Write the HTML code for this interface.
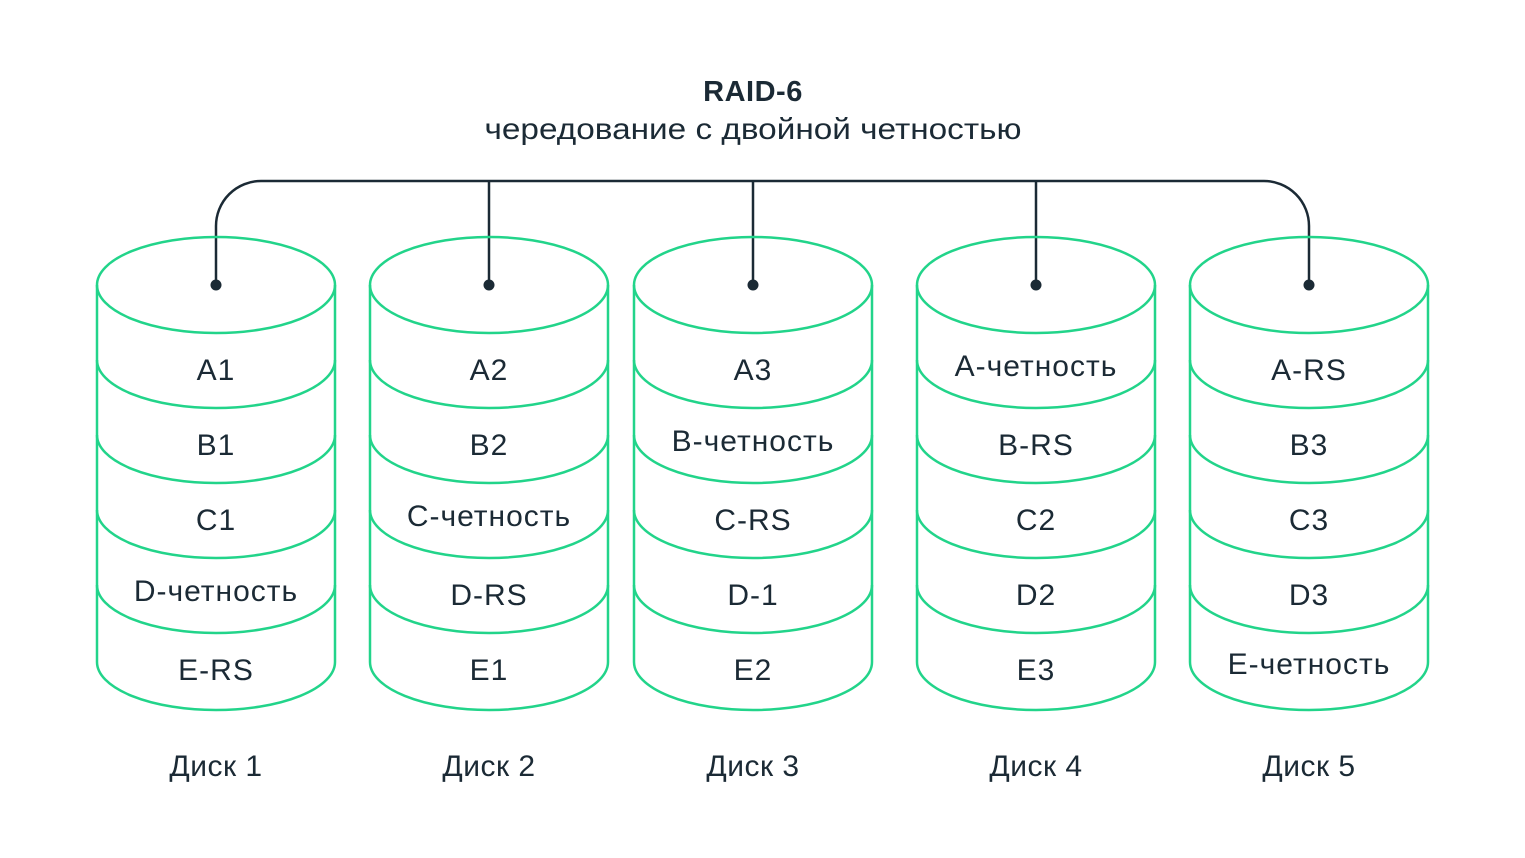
<!DOCTYPE html>
<html><head><meta charset="utf-8"><style>
html,body{margin:0;padding:0;background:#fff;}
svg{display:block;}
text{font-family:"Liberation Sans","DejaVu Sans",sans-serif;fill:#1b2a35;}
</style></head><body>
<svg width="1525" height="858" viewBox="0 0 1525 858" xmlns="http://www.w3.org/2000/svg">
<text x="753" y="101" font-size="29" font-weight="bold" text-anchor="middle" letter-spacing="0.5">RAID-6</text>
<text x="753" y="139" font-size="30" text-anchor="middle" textLength="537" lengthAdjust="spacingAndGlyphs">чередование с двойной четностью</text>
<g fill="none" stroke="#1b2a35" stroke-width="2.5">
<path d="M216 285 V226 A45 45 0 0 1 261 181 H1264 A45 45 0 0 1 1309 226 V285"/>
<path d="M489 181 V285 M753 181 V285 M1036 181 V285"/>
</g>
<g fill="#1b2a35">
<circle cx="216" cy="285" r="5.5"/><circle cx="489" cy="285" r="5.5"/><circle cx="753" cy="285" r="5.5"/><circle cx="1036" cy="285" r="5.5"/><circle cx="1309" cy="285" r="5.5"/>
</g>
<defs>
<g id="cyl" fill="none" stroke="#22d48a" stroke-width="2.5">
<ellipse cx="0" cy="285" rx="119" ry="48"/>
<path d="M-119 285 V662 M119 285 V662"/>
<path d="M-119 360 A119 48 0 0 0 119 360"/>
<path d="M-119 435 A119 48 0 0 0 119 435"/>
<path d="M-119 510 A119 48 0 0 0 119 510"/>
<path d="M-119 585 A119 48 0 0 0 119 585"/>
<path d="M-119 662 A119 48 0 0 0 119 662"/>
</g>
</defs>
<use href="#cyl" x="216"/><use href="#cyl" x="489"/><use href="#cyl" x="753"/><use href="#cyl" x="1036"/><use href="#cyl" x="1309"/>
<g font-size="30" text-anchor="middle" letter-spacing="1">
<text x="216" y="380">A1</text><text x="216" y="455">B1</text><text x="216" y="530">C1</text><text x="216" y="601">D-четность</text><text x="216" y="680">E-RS</text>
<text x="489" y="380">A2</text><text x="489" y="455">B2</text><text x="489" y="526">C-четность</text><text x="489" y="605">D-RS</text><text x="489" y="680">E1</text>
<text x="753" y="380">A3</text><text x="753" y="451">B-четность</text><text x="753" y="530">C-RS</text><text x="753" y="605">D-1</text><text x="753" y="680">E2</text>
<text x="1036" y="376">A-четность</text><text x="1036" y="455">B-RS</text><text x="1036" y="530">C2</text><text x="1036" y="605">D2</text><text x="1036" y="680">E3</text>
<text x="1309" y="380">A-RS</text><text x="1309" y="455">B3</text><text x="1309" y="530">C3</text><text x="1309" y="605">D3</text><text x="1309" y="674">E-четность</text>
</g>
<g font-size="30" text-anchor="middle" letter-spacing="0.5">
<text x="216" y="776">Диск 1</text><text x="489" y="776">Диск 2</text><text x="753" y="776">Диск 3</text><text x="1036" y="776">Диск 4</text><text x="1309" y="776">Диск 5</text>
</g>
</svg>
</body></html>
